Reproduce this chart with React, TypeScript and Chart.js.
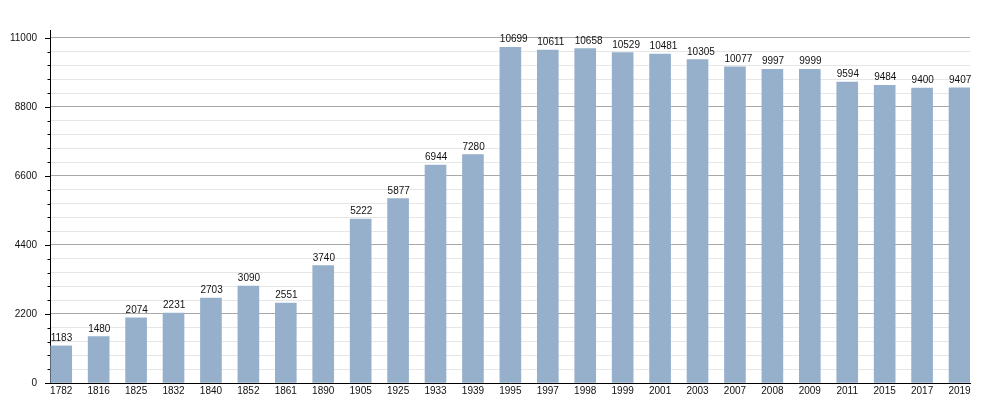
import React, { useEffect, useRef } from "react";
import { Chart, registerables } from "chart.js";

Chart.register(...registerables);

const years = ["1782","1816","1825","1832","1840","1852","1861","1890","1905","1925","1933","1939","1995","1997","1998","1999","2001","2003","2007","2008","2009","2011","2015","2017","2019"];
const population = [1183,1480,2074,2231,2703,3090,2551,3740,5222,5877,6944,7280,10699,10611,10658,10529,10481,10305,10077,9997,9999,9594,9484,9400,9407];
const yTickValues = [0,440,880,1320,1760,2200,2640,3080,3520,3960,4400,4840,5280,5720,6160,6600,7040,7480,7920,8360,8800,9240,9680,10120,10560,11000];
const yLabelValues = [0,2200,4400,6600,8800,11000];

const FONT = '"Liberation Sans", Arial, Helvetica, sans-serif';

const tickMarksPlugin = {
  id: "tickMarks",
  afterDraw(chart: any) {
    const ctx = chart.ctx;
    const y = chart.scales.y;
    const left = chart.chartArea.left;
    ctx.save();
    ctx.strokeStyle = "#000";
    ctx.lineWidth = 1;
    ctx.beginPath();
    for (const v of yTickValues) {
      const py = Math.round(y.getPixelForValue(v)) + 0.5;
      const len = yLabelValues.includes(v) ? 5 : 2.5;
      ctx.moveTo(left - len, py);
      ctx.lineTo(left, py);
    }
    ctx.stroke();
    ctx.restore();
  },
};

const valueLabelsPlugin = {
  id: "valueLabels",
  afterDatasetsDraw(chart: any) {
    const ctx = chart.ctx;
    const meta = chart.getDatasetMeta(0);
    ctx.save();
    ctx.font = `10px ${FONT}`;
    ctx.fillStyle = "#111";
    ctx.textAlign = "left";
    ctx.textBaseline = "alphabetic";
    meta.data.forEach((bar: any, i: number) => {
      const left = bar.x - bar.width / 2;
      ctx.fillText(String(population[i]), left, bar.y - 5);
    });
    ctx.restore();
  },
};

export default function App() {
  const ref = useRef<HTMLCanvasElement>(null);
  useEffect(() => {
    if (!ref.current) return;
    const chart = new Chart(ref.current, {
      type: "bar",
      data: {
        datasets: [
          {
            data: years.map((_, i) => ({ x: i, y: population[i] })),
            backgroundColor: "#96b0cb",
            borderWidth: 0,
            barThickness: 21,
          },
        ],
      },
      options: {
        animation: false,
        responsive: false,
        devicePixelRatio: 1,
        layout: { padding: { left: 0, right: 30, top: 30, bottom: 0 } },
        plugins: { legend: { display: false }, tooltip: { enabled: false } },
        scales: {
          x: {
            type: "linear",
            min: -0.3,
            max: 24.28,
            offset: false,
            grid: { display: false, drawTicks: false, offset: false },
            border: { display: true, color: "#000", width: 1 },
            afterBuildTicks: (scale: any) => {
              scale.ticks = years.map((_, i) => ({ value: i }));
            },
            afterFit: (scale: any) => {
              scale.height = 17;
            },
            ticks: {
              autoSkip: false,
              maxRotation: 0,
              padding: 2,
              color: "#111",
              font: { family: FONT, size: 10 },
              callback: (v: any) => years[v] ?? "",
            },
          },
          y: {
            type: "linear",
            min: 0,
            max: 11250,
            afterBuildTicks: (scale: any) => {
              scale.ticks = yTickValues.map((v) => ({ value: v }));
            },
            afterFit: (scale: any) => {
              scale.width = 50;
              scale.paddingTop = 0;
              scale.paddingBottom = 0;
            },
            grid: {
              drawTicks: false,
              color: (ctx: any) =>
                ctx.tick && yLabelValues.includes(ctx.tick.value) ? "#a8a8a8" : "#e6e6e6",
            },
            border: { display: true, color: "#000", width: 1 },
            ticks: {
              autoSkip: false,
              padding: 13,
              color: "#111",
              font: { family: FONT, size: 10 },
              callback: (v: any) => (yLabelValues.includes(v) ? String(v) : ""),
            },
          },
        },
      },
      plugins: [tickMarksPlugin, valueLabelsPlugin],
    });
    return () => chart.destroy();
  }, []);
  return (
    <canvas
      ref={ref}
      width={1000}
      height={400}
      style={{ position: "absolute", left: 0, top: 0, width: 1000, height: 400 }}
    />
  );
}
